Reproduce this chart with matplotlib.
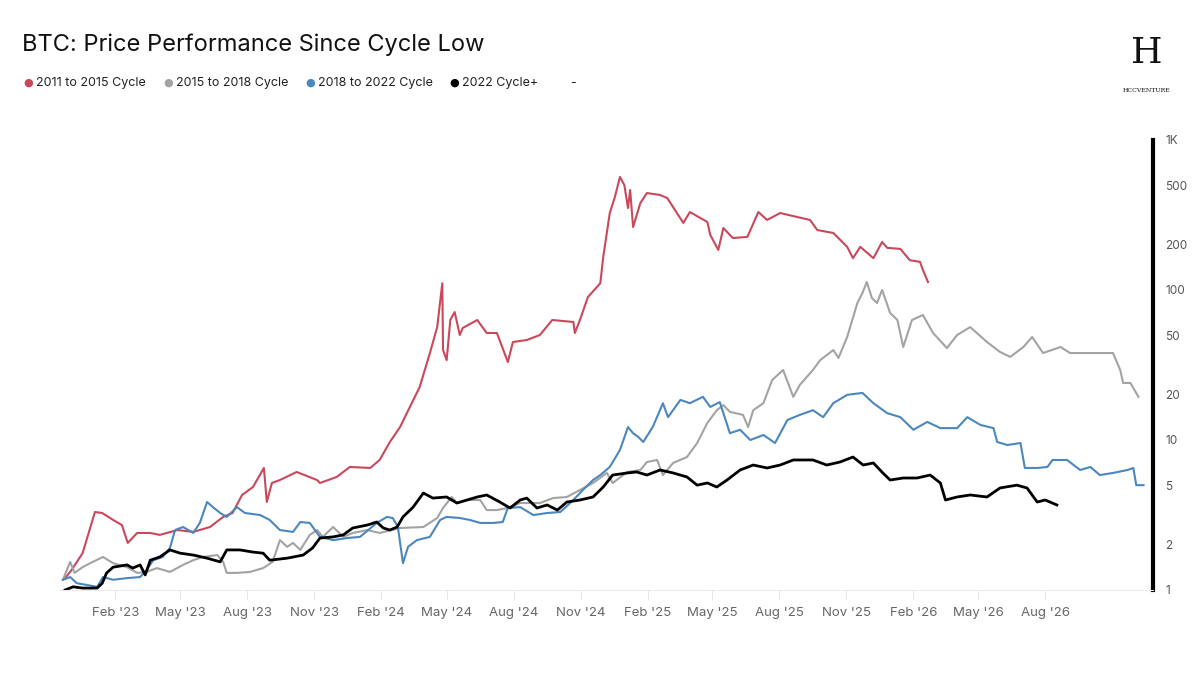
import numpy as np
import matplotlib
matplotlib.use('Agg')
import matplotlib.pyplot as plt
import matplotlib.dates as mdates
from matplotlib.ticker import NullLocator

plt.rcParams['font.family'] = ['Inter', 'DejaVu Sans']

cycle_low = np.datetime64('2022-11-21')

# values = multiple of the cycle low, days = days since the low
c1_days = [3, 12, 27, 44, 54, 69, 81, 89, 102, 120, 133, 157, 179, 202, 220, 233, 246, 261, 276, 280,
           287, 298, 321, 349, 353, 376, 394, 422, 435, 449, 463, 490, 504, 514, 521, 522, 527, 532, 538, 545,
           549, 569, 582, 596, 611, 618, 637, 655, 672, 701, 703, 710, 721, 738, 742, 751, 758, 765, 771, 776,
           779, 783, 793, 802, 820, 830, 852, 861, 885, 889, 900, 907, 920, 940, 955, 967, 985, 1008, 1026, 1036,
           1058, 1077, 1085, 1095, 1113, 1125, 1132, 1150, 1163, 1177, 1181, 1188]
c1_vals = [1.20, 1.36, 1.76, 3.31, 3.26, 2.93, 2.71, 2.06, 2.40, 2.40, 2.33, 2.51, 2.44, 2.63, 3.07, 3.26, 4.30, 4.86, 6.51, 3.86,
           5.17, 5.41, 6.12, 5.41, 5.17, 5.67, 6.61, 6.51, 7.36, 9.70, 12.2, 22.6, 38.0, 56.6, 111, 39.8, 34.1, 63.1, 71.3, 50.1,
           55.8, 63.1, 51.7, 51.7, 33.1, 45.0, 46.4, 50.1, 63.1, 61.2, 51.7, 63.1, 89.8, 111, 166, 326, 417, 567, 501, 352,
           464, 263, 380, 443, 430, 410, 280, 331, 284, 233, 185, 259, 222, 226, 331, 293, 326, 307, 293, 251,
           240, 194, 163, 194, 163, 209, 191, 188, 158, 154, 136, 113]

c2_days = [0, 10, 16, 27, 41, 55, 69, 88, 102, 115, 129, 147, 165, 179, 192, 212, 220, 225, 239, 257,
           275, 288, 298, 308, 316, 326, 339, 349, 357, 371, 385, 398, 418, 435, 463, 495, 514, 522, 534, 541,
           555, 573, 582, 596, 610, 628, 655, 673, 692, 710, 728, 747, 755, 775, 793, 802, 816, 824, 838, 857,
           871, 885, 898, 907, 916, 934, 941, 948, 962, 974, 989, 1003, 1012, 1030, 1040, 1058, 1065, 1077, 1091, 1098,
           1104, 1111, 1118, 1125, 1136, 1146, 1154, 1166, 1181, 1195, 1214, 1228, 1246, 1269, 1287, 1301, 1319, 1331, 1346, 1370,
           1383, 1415, 1442, 1452, 1456, 1466, 1477]
c2_vals = [1.17, 1.54, 1.30, 1.42, 1.54, 1.66, 1.51, 1.42, 1.30, 1.32, 1.40, 1.32, 1.47, 1.58, 1.66, 1.71, 1.54, 1.30, 1.30, 1.32,
           1.40, 1.54, 2.15, 1.94, 2.06, 1.85, 2.33, 2.51, 2.26, 2.63, 2.26, 2.40, 2.51, 2.40, 2.59, 2.63, 3.02, 3.52, 4.17, 3.80,
           3.98, 3.98, 3.41, 3.41, 3.52, 3.80, 3.80, 4.10, 4.17, 4.64, 5.17, 6.03, 5.17, 6.12, 6.31, 7.13, 7.36, 5.84, 7.03, 7.70,
           9.55, 13.0, 15.8, 17.1, 15.4, 14.7, 12.2, 15.8, 17.6, 25.1, 29.3, 19.4, 23.3, 29.3, 34.1, 39.8, 35.2, 48.6, 81.9, 95.5,
           113, 88.4, 81.9, 100, 70.3, 63.1, 41.7, 63.1, 68.1, 51.7, 41.0, 50.1, 56.6, 45.0, 38.6, 35.8, 41.7, 48.6, 38.0, 41.7,
           38.0, 38.0, 38.0, 29.3, 24.0, 24.0, 19.4]

c3_days = [0, 10, 19, 33, 47, 55, 69, 88, 106, 115, 124, 137, 147, 154, 165, 179, 188, 198, 206, 216,
           225, 239, 250, 271, 284, 298, 316, 326, 339, 353, 371, 390, 408, 431, 445, 453, 460, 467, 474, 486,
           504, 518, 527, 545, 559, 573, 591, 604, 611, 628, 646, 665, 683, 701, 714, 728, 738, 751, 765, 776,
           783, 790, 797, 810, 824, 831, 848, 861, 879, 889, 902, 916, 930, 944, 962, 978, 995, 1012, 1030, 1044,
           1058, 1077, 1098, 1113, 1132, 1150, 1168, 1187, 1205, 1228, 1242, 1260, 1278, 1283, 1297, 1315, 1321, 1338, 1352, 1359,
           1379, 1397, 1411, 1424, 1442, 1462, 1470, 1474, 1484]
c3_vals = [1.17, 1.22, 1.11, 1.08, 1.05, 1.22, 1.17, 1.20, 1.22, 1.36, 1.58, 1.66, 1.91, 2.51, 2.63, 2.40, 2.80, 3.86, 3.57, 3.26,
           3.07, 3.57, 3.26, 3.16, 2.93, 2.51, 2.44, 2.84, 2.80, 2.26, 2.15, 2.22, 2.26, 2.80, 3.07, 3.02, 2.63, 1.51, 1.94, 2.15,
           2.26, 2.93, 3.07, 3.02, 2.93, 2.80, 2.80, 2.84, 3.52, 3.57, 3.16, 3.26, 3.31, 3.98, 4.64, 5.41, 5.84, 6.61, 8.58, 12.2,
           11.1, 10.5, 9.70, 12.2, 17.6, 14.2, 18.5, 17.6, 19.4, 16.6, 17.9, 11.1, 11.7, 10.0, 10.8, 9.55, 13.6, 14.7, 15.8, 14.2,
           17.6, 20.0, 20.6, 17.6, 15.1, 14.2, 11.7, 13.2, 12.0, 12.0, 14.2, 12.6, 12.0, 9.70, 9.26, 9.55, 6.51, 6.51, 6.61, 7.36,
           7.36, 6.31, 6.61, 5.84, 6.03, 6.31, 6.51, 5.0, 5.0]

c4_days = [3, 14, 27, 47, 54, 60, 69, 88, 96, 106, 113, 120, 133, 147, 161, 179, 198, 216, 225, 243,
           261, 275, 284, 308, 330, 343, 353, 371, 385, 398, 418, 431, 440, 449, 459, 467, 481, 495, 508, 527,
           541, 555, 569, 582, 600, 614, 628, 637, 651, 665, 679, 692, 710, 728, 742, 755, 775, 788, 802, 820,
           838, 857, 871, 885, 898, 912, 930, 948, 967, 985, 1003, 1030, 1049, 1067, 1085, 1099, 1113, 1126, 1136, 1154,
           1173, 1191, 1205, 1212, 1228, 1246, 1269, 1287, 1310, 1324, 1338, 1349, 1365]
c4_vals = [1.0, 1.05, 1.03, 1.03, 1.11, 1.30, 1.42, 1.47, 1.40, 1.47, 1.26, 1.58, 1.66, 1.85, 1.76, 1.71, 1.63, 1.54, 1.85, 1.85,
           1.79, 1.76, 1.58, 1.63, 1.71, 1.91, 2.22, 2.26, 2.33, 2.59, 2.71, 2.84, 2.59, 2.51, 2.63, 3.07, 3.57, 4.43, 4.10, 4.17,
           3.80, 3.98, 4.17, 4.30, 3.86, 3.52, 3.98, 4.10, 3.52, 3.69, 3.41, 3.86, 3.98, 4.17, 4.86, 5.84, 6.03, 6.12, 5.84, 6.31,
           6.03, 5.67, 5.0, 5.17, 4.86, 5.41, 6.31, 6.81, 6.51, 6.81, 7.36, 7.36, 6.81, 7.13, 7.70, 6.81, 7.03, 6.03, 5.41, 5.58,
           5.58, 5.84, 5.17, 3.98, 4.17, 4.30, 4.17, 4.79, 5.0, 4.79, 3.86, 3.98, 3.69]

labels = ['2011 to 2015 Cycle', '2015 to 2018 Cycle', '2018 to 2022 Cycle', '2022 Cycle+']
colors = ['#c9485b', '#a3a3a3', '#4a87bf', '#000000']

y_ticks = [1, 2, 5, 10, 20, 50, 100, 200, 500, 1000]
y_labels = ['1', '2', '5', '10', '20', '50', '100', '200', '500', '1K']
x_ticks = ['2023-02-01', '2023-05-01', '2023-08-01', '2023-11-01', '2024-02-01', '2024-05-01', '2024-08-01',
           '2024-11-01', '2025-02-01', '2025-05-01', '2025-08-01', '2025-11-01', '2026-02-01', '2026-05-01',
           '2026-08-01']
x_labels = ["Feb '23", "May '23", "Aug '23", "Nov '23", "Feb '24", "May '24", "Aug '24",
            "Nov '24", "Feb '25", "May '25", "Aug '25", "Nov '25", "Feb '26", "May '26", "Aug '26"]

fig = plt.figure(figsize=(12, 6.75), dpi=100)
ax = fig.add_axes([60/1200, 1-590/675, (1153-60)/1200, 450/675])

all_days = [c1_days, c2_days, c3_days, c4_days]
all_vals = [c1_vals, c2_vals, c3_vals, c4_vals]
widths = [1.5, 1.5, 1.5, 2.0]
for d, v, c, w in zip(all_days, all_vals, colors, widths):
    dates = cycle_low + np.array(d).astype('timedelta64[D]')
    ax.plot(dates, v, color=c, lw=w, solid_joinstyle='round')

ax.set_yscale('log')
ax.set_ylim(1, 1000)
ax.set_xlim(cycle_low - np.timedelta64(4, 'D'), cycle_low + np.timedelta64(1497, 'D'))

ax.yaxis.tick_right()
ax.set_yticks(y_ticks)
ax.set_yticklabels(y_labels)
ax.yaxis.set_minor_locator(NullLocator())
ax.tick_params(axis='y', length=0, pad=9, labelsize=8.5, labelcolor='#555555')

ax.set_xticks(mdates.date2num(np.array(x_ticks, dtype='datetime64[D]')))
ax.set_xticklabels(x_labels)
ax.tick_params(axis='x', length=7, width=0.8, color='#e8e8e8', pad=5, labelsize=9.5, labelcolor='#666666')

for s in ['top', 'left']:
    ax.spines[s].set_visible(False)
ax.spines['bottom'].set_color('#ececec')
ax.spines['right'].set_linewidth(3)
ax.spines['right'].set_color('black')

# title and legend row
fig.text(22/1200, 1-45/675, 'BTC: Price Performance Since Cycle Low', fontsize=17, color='#111111', va='center')
leg_x = [28, 168, 310, 454]
for lx, lab, c in zip(leg_x, labels, colors):
    fig.text(lx/1200, 1-83/675, '●', color=c, fontsize=8, ha='center', va='center', family='DejaVu Sans')
    fig.text((lx+8)/1200, 1-83/675, lab, fontsize=9, color='#222222', va='center')
fig.text(570/1200, 1-83/675, '-', fontsize=9, color='#222222', va='center')

# logo
fig.text(1147/1200, 1-53/675, 'H', fontsize=26, family='DejaVu Serif', ha='center', va='center', color='#111111')
fig.text(1147/1200, 1-91/675, 'HCCVENTURE', fontsize=4.5, family='DejaVu Serif', ha='center', va='center', color='#111111')

fig.savefig('out.png', dpi=100, facecolor='white')
